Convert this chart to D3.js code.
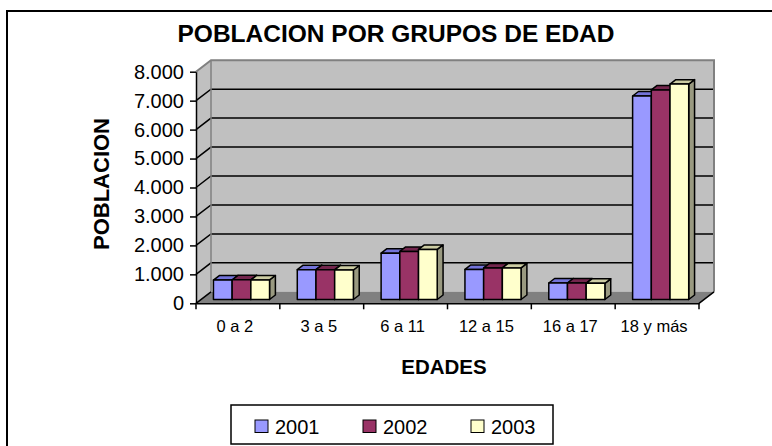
<!DOCTYPE html>
<html>
<head>
<meta charset="utf-8">
<script src="https://cdn.jsdelivr.net/npm/d3@7"></script>
<style>
  body { margin: 0; background: #fff; }
  svg { font-family: "Liberation Sans", Arial, sans-serif; }
</style>
</head>
<body>
<svg id="chart" width="772" height="446"></svg>
<script>
const categories = ["0 a 2", "3 a 5", "6 a 11", "12 a 15", "16 a 17", "18 y más"];
const years = ["2001", "2002", "2003"];
const s2001 = [670, 1030, 1600, 1040, 570, 7030];
const s2002 = [680, 1030, 1660, 1090, 570, 7240];
const s2003 = [675, 1020, 1730, 1090, 560, 7440];
const yTicks = [0, 1000, 2000, 3000, 4000, 5000, 6000, 7000, 8000];

const series = [s2001, s2002, s2003];
const colors = ["#9999FF", "#993366", "#FFFFCC"];
const topColors = ["#7373D9", "#73264D", "#CCCCA3"];
const sideColors = ["#6B6BB3", "#5C1F3D", "#999980"];

const svg = d3.select("#chart");

// 3d depth offset of the back wall
const dx = 15, dy = -11.5;
const front = 0.33, back = 0.72;

const x = d3.scaleBand().domain(categories).range([196, 699]);
const y = d3.scaleLinear().domain([0, 8000]).range([303.3, 71.7]);
const xs = d3.scaleBand().domain(years).range([12.5, 12.5 + 56.1]);

// outer frame
svg.append("rect")
  .attr("x", 7).attr("y", 11)
  .attr("width", 800).attr("height", 500)
  .attr("fill", "none").attr("stroke", "#000").attr("stroke-width", 2);

svg.append("text")
  .attr("x", 396).attr("y", 42)
  .attr("text-anchor", "middle")
  .style("font-size", "24.5px").style("font-weight", "bold")
  .text("POBLACION POR GRUPOS DE EDAD");

const x0 = x.range()[0], x1 = x.range()[1];
const yTop = y(8000), yBot = y(0);

// side wall
svg.append("polygon")
  .attr("points", [[x0, yTop], [x0 + dx, yTop + dy], [x0 + dx, yBot + dy], [x0, yBot]].join(" "))
  .attr("fill", "#C0C0C0");

// back wall
svg.append("rect")
  .attr("x", x0 + dx).attr("y", yTop + dy)
  .attr("width", x1 - x0).attr("height", yBot - yTop)
  .attr("fill", "#C0C0C0");

// gridlines
const grid = yTicks.filter(d => d > 0 && d < 8000);
svg.selectAll(".grid").data(grid).enter().append("path")
  .attr("d", d => `M${x0},${y(d)}L${x0 + dx},${y(d) + dy}L${x1 + dx},${y(d) + dy}`)
  .attr("fill", "none").attr("stroke", "#000").attr("stroke-width", 1.5);

// wall border
svg.append("path")
  .attr("d", `M${x0},${yTop}L${x0 + dx},${yTop + dy}L${x1 + dx},${yTop + dy}L${x1 + dx},${yBot + dy}`)
  .attr("fill", "none").attr("stroke", "#808080").attr("stroke-width", 2);
svg.append("line")
  .attr("x1", x0 + dx).attr("x2", x0 + dx)
  .attr("y1", yTop + dy).attr("y2", yBot + dy)
  .attr("stroke", "#808080").attr("stroke-width", 1.5);

// floor
svg.append("polygon")
  .attr("points", [[x0, yBot], [x1, yBot], [x1 + dx, yBot + dy], [x0 + dx, yBot + dy]].join(" "))
  .attr("fill", "#808080");
svg.append("path")
  .attr("d", `M${x0},${yBot}L${x0 + dx},${yBot + dy}M${x1},${yBot}L${x1 + dx},${yBot + dy}`)
  .attr("stroke", "#000").attr("stroke-width", 1.5);

// bars
const bw = xs.bandwidth();
const fdx = front * dx, fdy = front * dy;
const ddx = (back - front) * dx, ddy = (back - front) * dy;

categories.forEach((cat, i) => {
  series.forEach((s, j) => {
    const bx = x(cat) + xs(years[j]) + fdx;
    const by0 = y(0) + fdy;
    const by1 = y(s[i]) + fdy;
    const g = svg.append("g")
      .attr("stroke", "#000").attr("stroke-width", 1.5).attr("stroke-linejoin", "round");
    g.append("polygon")
      .attr("points", [[bx + bw, by1], [bx + bw + ddx, by1 + ddy], [bx + bw + ddx, by0 + ddy], [bx + bw, by0]].join(" "))
      .attr("fill", sideColors[j]);
    g.append("polygon")
      .attr("points", [[bx, by1], [bx + ddx, by1 + ddy], [bx + bw + ddx, by1 + ddy], [bx + bw, by1]].join(" "))
      .attr("fill", topColors[j]);
    g.append("rect")
      .attr("x", bx).attr("y", by1)
      .attr("width", bw).attr("height", by0 - by1)
      .attr("fill", colors[j]);
  });
});

// y axis
const fmt = d3.formatLocale({ decimal: ",", thousands: ".", grouping: [3], currency: ["", ""] }).format(",d");
const yAxis = svg.append("g")
  .attr("transform", `translate(${x0},0)`)
  .call(d3.axisLeft(y).tickValues(yTicks).tickSize(6).tickPadding(6).tickSizeOuter(0).tickFormat(fmt));
yAxis.selectAll("text").style("font-size", "20px").attr("fill", "#000");
yAxis.selectAll("line, path").attr("stroke", "#000").attr("stroke-width", 1.5);

// x axis
const xAxis = svg.append("g")
  .attr("transform", `translate(0,${yBot})`)
  .call(d3.axisBottom(x).tickSize(0).tickPadding(17).tickSizeOuter(0));
xAxis.selectAll("text").style("font-size", "16.5px").attr("fill", "#000").attr("x", -3);
xAxis.select("path").attr("stroke", "#000").attr("stroke-width", 1.5);
const bounds = categories.map(d => x(d)).concat([x1]);
xAxis.selectAll(".bound").data(bounds).enter().append("line")
  .attr("x1", d => d).attr("x2", d => d)
  .attr("y1", 0).attr("y2", 6)
  .attr("stroke", "#000").attr("stroke-width", 1.5);

// axis titles
svg.append("text")
  .attr("transform", "translate(109,184) rotate(-90)")
  .attr("text-anchor", "middle")
  .style("font-size", "22px").style("font-weight", "bold")
  .text("POBLACION");

svg.append("text")
  .attr("x", 444).attr("y", 374)
  .attr("text-anchor", "middle")
  .style("font-size", "20.5px").style("font-weight", "bold")
  .text("EDADES");

// legend
const legend = svg.append("g");
legend.append("rect")
  .attr("x", 231).attr("y", 405)
  .attr("width", 322).attr("height", 39)
  .attr("fill", "#fff").attr("stroke", "#000").attr("stroke-width", 1.5);
const item = legend.selectAll(".item").data(years).enter().append("g")
  .attr("transform", (d, i) => `translate(${255 + i * 108},0)`);
item.append("rect")
  .attr("x", 0).attr("y", 420).attr("width", 13).attr("height", 12.5)
  .attr("fill", (d, i) => colors[i]).attr("stroke", "#000").attr("stroke-width", 1);
item.append("text")
  .attr("x", 20).attr("y", 433.5)
  .style("font-size", "20px")
  .text(d => d);
</script>
</body>
</html>
